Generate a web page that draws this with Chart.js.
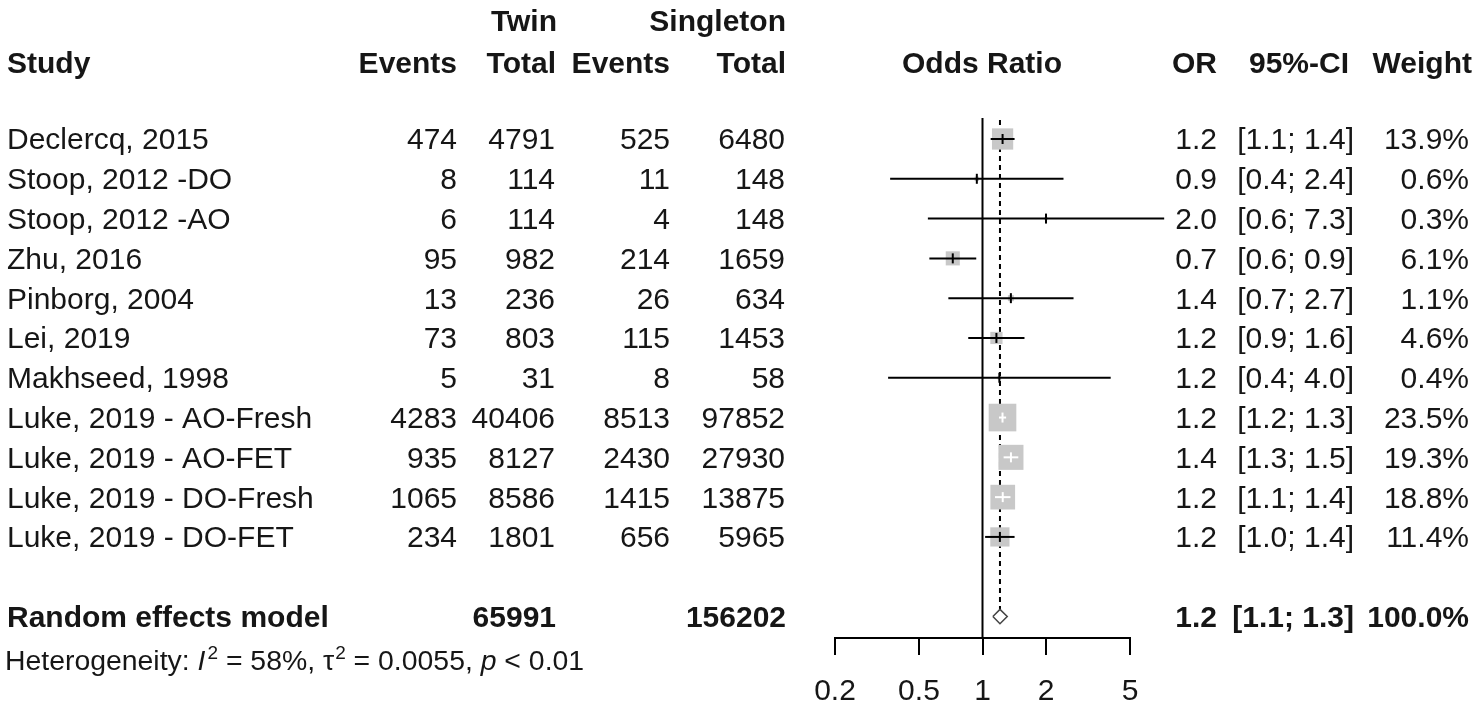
<!DOCTYPE html>
<html><head><meta charset="utf-8">
<script src="https://cdn.jsdelivr.net/npm/chart.js@4.4.1/dist/chart.umd.min.js"></script>
<style>html,body{margin:0;padding:0;background:#fff;overflow:hidden}#wrap{width:1479px;height:718px}</style>
</head><body><div id="wrap"><canvas id="c" width="1479" height="718"></canvas></div>
<script>
const studies = ['Declercq, 2015','Stoop, 2012 -DO','Stoop, 2012 -AO','Zhu, 2016','Pinborg, 2004','Lei, 2019','Makhseed, 1998','Luke, 2019 - AO-Fresh','Luke, 2019 - AO-FET','Luke, 2019 - DO-Fresh','Luke, 2019 - DO-FET'];
const twinEvents = [474,8,6,95,13,73,5,4283,935,1065,234];
const twinTotal = [4791,114,114,982,236,803,31,40406,8127,8586,1801];
const singEvents = [525,11,4,214,26,115,8,8513,2430,1415,656];
const singTotal = [6480,148,148,1659,634,1453,58,97852,27930,13875,5965];
const orEst = [1.245,0.94,2.00,0.723,1.363,1.164,1.202,1.244,1.364,1.247,1.209];
const ciLower = [1.093,0.365,0.551,0.56,0.689,0.856,0.357,1.197,1.259,1.146,1.029];
const ciUpper = [1.419,2.42,7.26,0.934,2.70,1.581,4.05,1.294,1.478,1.357,1.419];
const weights = [13.9,0.6,0.3,6.1,1.1,4.6,0.4,23.5,19.3,18.8,11.4];
const orText = ['1.2','0.9','2.0','0.7','1.4','1.2','1.2','1.2','1.4','1.2','1.2'];
const ciText = ['[1.1; 1.4]','[0.4; 2.4]','[0.6; 7.3]','[0.6; 0.9]','[0.7; 2.7]','[0.9; 1.6]','[0.4; 4.0]','[1.2; 1.3]','[1.3; 1.5]','[1.1; 1.4]','[1.0; 1.4]'];
const weightText = ['13.9%','0.6%','0.3%','6.1%','1.1%','4.6%','0.4%','23.5%','19.3%','18.8%','11.4%'];
const pooledEst = 1.21, pooledLower = 1.12, pooledUpper = 1.31;
const pooledTwinTotal = '65991', pooledSingTotal = '156202';
const pooledOrText = '1.2', pooledCiText = '[1.1; 1.3]', pooledWeightText = '100.0%';
const xTicks = [0.2, 0.5, 1, 2, 5];

const FONT = "'Liberation Sans', Arial, sans-serif";
const TXT = '#161616';
const N = studies.length;
const Y_MIN = -0.98, Y_MAX = 12.54;
const side = i => 5.7 * Math.sqrt(weights[i]);
function inside(chart, i) {
  const xs = chart.scales.x;
  const cx = xs.getPixelForValue(orEst[i]), h = side(i) / 2;
  return xs.getPixelForValue(ciLower[i]) >= cx - h && xs.getPixelForValue(ciUpper[i]) <= cx + h;
}

const squares = orEst.map((v, i) => ({x: v, y: i}));
const ests = orEst.map((v, i) => ({x: v, y: i}));
const ciData = [];
orEst.forEach((v, i) => { ciData.push({x: ciLower[i], y: i}, {x: ciUpper[i], y: i}, {x: ciUpper[i], y: null}); });
const diamondData = [
  {x: pooledLower, y: N + 1}, {x: pooledEst, y: N + 1 - 0.18},
  {x: pooledUpper, y: N + 1}, {x: pooledEst, y: N + 1 + 0.18}, {x: pooledLower, y: N + 1}
];

const textPlugin = {
  id: 'forestText',
  afterDraw(chart) {
    const ctx = chart.ctx, ys = chart.scales.y;
    ctx.save();
    ctx.fillStyle = TXT;
    ctx.textBaseline = 'alphabetic';
    const put = (t, x, y, align, bold, size, style) => {
      ctx.font = (style || '') + ' ' + (bold ? 'bold ' : '') + (size || 30) + 'px ' + FONT;
      ctx.textAlign = align;
      ctx.fillText(t, x, y);
      return ctx.measureText(t).width;
    };
    const off = 10.5;
    put('Twin', 557, 20 + off, 'right', true);
    put('Singleton', 786, 20 + off, 'right', true);
    const hy = 62 + off;
    put('Study', 7, hy, 'left', true);
    put('Events', 457, hy, 'right', true);
    put('Total', 556, hy, 'right', true);
    put('Events', 670, hy, 'right', true);
    put('Total', 786, hy, 'right', true);
    put('Odds Ratio', 982, hy, 'center', true);
    put('OR', 1217, hy, 'right', true);
    put('95%-CI', 1349, hy, 'right', true);
    put('Weight', 1472, hy, 'right', true);
    for (let i = 0; i < N; i++) {
      const y = ys.getPixelForValue(i) + off;
      put(studies[i], 7, y, 'left');
      put(String(twinEvents[i]), 457, y, 'right');
      put(String(twinTotal[i]), 555, y, 'right');
      put(String(singEvents[i]), 670, y, 'right');
      put(String(singTotal[i]), 785, y, 'right');
      put(orText[i], 1217, y, 'right');
      put(ciText[i], 1354, y, 'right');
      put(weightText[i], 1469, y, 'right');
    }
    const py = ys.getPixelForValue(N + 1) + off;
    put('Random effects model', 7, py, 'left', true);
    put(pooledTwinTotal, 556, py, 'right', true);
    put(pooledSingTotal, 786, py, 'right', true);
    put(pooledOrText, 1217, py, 'right', true);
    put(pooledCiText, 1354, py, 'right', true);
    put(pooledWeightText, 1469, py, 'right', true);
    const hs = 28.4, sup = 19;
    const hyy = 660 + 10;
    let x = 5;
    x += put('Heterogeneity: ', x, hyy, 'left', false, hs);
    x += put('I', x, hyy, 'left', false, hs, 'italic');
    x += put('2', x + 2, hyy - 11, 'left', false, sup) + 2;
    x += put(' = 58%, ', x, hyy, 'left', false, hs);
    x += put('\u03C4', x, hyy, 'left', false, hs);
    x += put('2', x + 1, hyy - 11, 'left', false, sup) + 1;
    x += put(' = 0.0055, ', x, hyy, 'left', false, hs);
    x += put('p', x, hyy, 'left', false, hs, 'italic');
    x += put(' < 0.01', x, hyy, 'left', false, hs);
    ctx.restore();
  }
};

new Chart(document.getElementById('c'), {
  type: 'scatter',
  data: { datasets: [
    { type: 'line', data: [{x: 1, y: -0.53}, {x: 1, y: Y_MAX}], borderColor: '#000', borderWidth: 2, pointRadius: 0, clip: false, order: 6 },
    { type: 'line', data: [{x: pooledEst, y: -0.48}, {x: pooledEst, y: N + 1 - 0.18}], borderColor: '#000', borderWidth: 2, borderDash: [5, 4], pointRadius: 0, clip: false, order: 5 },
    { type: 'scatter', data: squares, pointStyle: 'rect', pointRadius: weights.map((w, i) => side(i) / Math.SQRT2),
      pointBackgroundColor: '#c8c8c8', pointBorderWidth: 0, clip: false, order: 4 },
    { type: 'line', data: ciData, borderColor: '#000', borderWidth: 2, pointRadius: 0, spanGaps: false, clip: false, order: 3,
      segment: { borderColor: c => inside(c.chart, Math.floor(c.p0DataIndex / 3)) ? '#fff' : '#000' } },
    { type: 'scatter', data: ests, pointStyle: 'line', pointRotation: 90, pointRadius: 5, pointBorderWidth: 2,
      pointBorderColor: c => inside(c.chart, c.dataIndex) ? '#fff' : '#000', clip: false, order: 2 },
    { type: 'line', data: diamondData, borderColor: '#444', borderWidth: 1.5, pointRadius: 0, fill: false, tension: 0, clip: false, order: 1 }
  ]},
  options: {
    responsive: false, animation: false, events: [], devicePixelRatio: 1,
    layout: { padding: { left: 835, right: 349, top: 100, bottom: 0 } },
    plugins: { legend: { display: false }, tooltip: { enabled: false } },
    scales: {
      x: { type: 'logarithmic', min: 0.2, max: 5, position: 'bottom',
        afterBuildTicks: s => { s.ticks = xTicks.map(v => ({value: v})); },
        afterFit: s => { s.height = 80; },
        ticks: { callback: v => String(v), autoSkip: false, maxRotation: 0, minRotation: 0, padding: 19,
          font: { size: 30, family: FONT }, color: TXT },
        grid: { drawOnChartArea: false, drawTicks: true, tickLength: 17, color: '#000', lineWidth: 2 },
        border: { display: true, color: '#000', width: 2 } },
      y: { type: 'linear', min: Y_MIN, max: Y_MAX, reverse: true, display: false }
    }
  },
  plugins: [textPlugin]
});
</script></body></html>
